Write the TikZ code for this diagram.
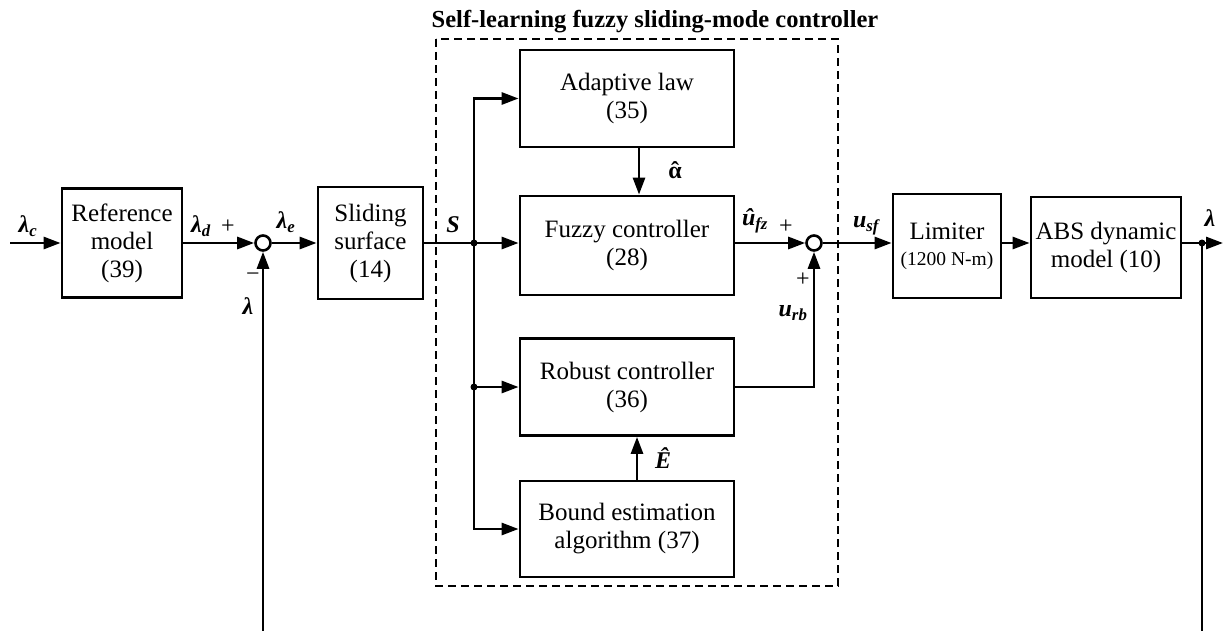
\documentclass[tikz,border=0pt]{standalone}
\usepackage{fontspec}
\setmainfont{Liberation Serif}
\usetikzlibrary{arrows.meta,calc}
\newcommand\subx[1]{\textsubscript{#1}}
\begin{document}
\begin{tikzpicture}[x=1pt,y=-1pt,
  blk/.style={draw,line width=2.8pt,inner sep=0pt,align=center,font=\fontsize{25}{28}\selectfont},
  arr/.style={line width=2.8pt,-{Triangle[length=17pt,width=12pt]}},
  ln/.style={line width=2.8pt},
  sumc/.style={circle,draw,line width=2.6pt,minimum size=15pt,inner sep=0pt},
  jdot/.style={circle,fill,inner sep=0pt,minimum size=7pt},
  lbl/.style={font=\fontsize{24}{24}\selectfont\bfseries\itshape,inner sep=0pt},
  lblup/.style={font=\fontsize{24}{24}\selectfont\bfseries,inner sep=0pt},
  pm/.style={font=\fontsize{24}{24}\selectfont,inner sep=0pt}]
\useasboundingbox (0,0) rectangle (1223,631);

% dashed frame and title
\draw[line width=2.4pt,dash pattern=on 8pt off 5pt] (436,39) rectangle (838,586);
\node[font=\fontsize{24.5}{26}\selectfont\bfseries,inner sep=0pt] (title) at (655,22) {Self-learning fuzzy sliding-mode controller};

% blocks
\node[blk,minimum width=120pt,minimum height=109pt] (ref) at (122,243) {Reference\\model\\(39)};
\node[blk,minimum width=105pt,minimum height=112pt] (slide) at (370.5,243) {Sliding\\surface\\(14)};
\node[blk,minimum width=214pt,minimum height=97pt] (adapt) at (627,98.5) {Adaptive law\\(35)};
\node[blk,minimum width=214pt,minimum height=99pt] (fuzzy) at (627,245.5) {Fuzzy controller\\(28)};
\node[blk,minimum width=214pt,minimum height=97pt] (robust) at (627,387) {Robust controller\\(36)};
\node[blk,minimum width=214pt,minimum height=96pt] (bound) at (627,529) {Bound estimation\\algorithm (37)};
\node[blk,minimum width=108pt,minimum height=104pt] (lim) at (947,246) {Limiter\\[-2pt]{\fontsize{19.5}{22}\selectfont(1200 N-m)}};
\node[blk,minimum width=150pt,minimum height=101pt] (abs) at (1106,247.5) {ABS dynamic\\model (10)};

% summing junctions
\node[sumc] (s1) at (263,243) {};
\node[sumc] (s2) at (814,243) {};

% coordinates
\coordinate (in) at (10,243);
\coordinate (br) at (474,243);
\coordinate (out) at (1223,243);
\coordinate (tap) at (1202,243);
\coordinate (fbR) at (1202,631);
\coordinate (fbL) at (263,631);

% connectors
\draw[arr] (in) -- (in -| ref.west);
\draw[arr] (ref.east |- s1) -- (s1.west);
\draw[arr] (s1.east) -- (s1 -| slide.west);
\draw[arr] (slide.east |- br) -- (br -| fuzzy.west);
\draw[arr] (br) |- (adapt.west);
\draw[arr] (br) |- (bound.west);
\draw[arr] (br |- robust.west) -- (robust.west);
\node[jdot] (j1) at (br) {};
\node[jdot] (j2) at (br |- robust.west) {};
\draw[arr] ([xshift=12pt]adapt.south) -- ([xshift=12pt]adapt.south |- fuzzy.north);
\draw[arr] (fuzzy.east |- s2) -- (s2.west);
\draw[arr] (robust.east) -| (s2.south);
\draw[arr] ([xshift=10pt]bound.north) -- ([xshift=10pt]bound.north |- robust.south);
\draw[arr] (s2.east) -- (s2 -| lim.west);
\draw[arr] (lim.east |- s2) -- (s2 -| abs.west);
\draw[arr] (abs.east |- out) -- (out);
\node[jdot] (j3) at (tap) {};
\draw[ln] (tap) -- (fbR);
\draw[arr] (fbL) -- (s1.south);

% labels
\node[lbl] (lc) at (28,226) {λ\subx{c}};
\node[lbl] (ld) at (201,226) {λ\subx{d}};
\node[pm] (p1) at (228,227) {+};
\node[lbl] (le) at (286,222) {λ\subx{e}};
\node[pm] (m1) at (253,277) {−};
\node[lbl] (lfb) at (248,306) {λ};
\node[lbl] (sl) at (453,225) {S};
\node[lblup] (al) at (675,170) {\accent"02C6 α};
\node[lbl] (ufz) at (755,221) {û\subx{fz}};
\node[pm] (p2) at (786,227) {+};
\node[pm] (p3) at (803,280) {+};
\node[lbl] (urb) at (793,313) {u\subx{rb}};
\node[lbl] (eh) at (663,458) {Ê};
\node[lbl] (usf) at (866,226) {u\subx{sf}};
\node[lbl] (lo) at (1210,218) {λ};
\end{tikzpicture}
\end{document}
